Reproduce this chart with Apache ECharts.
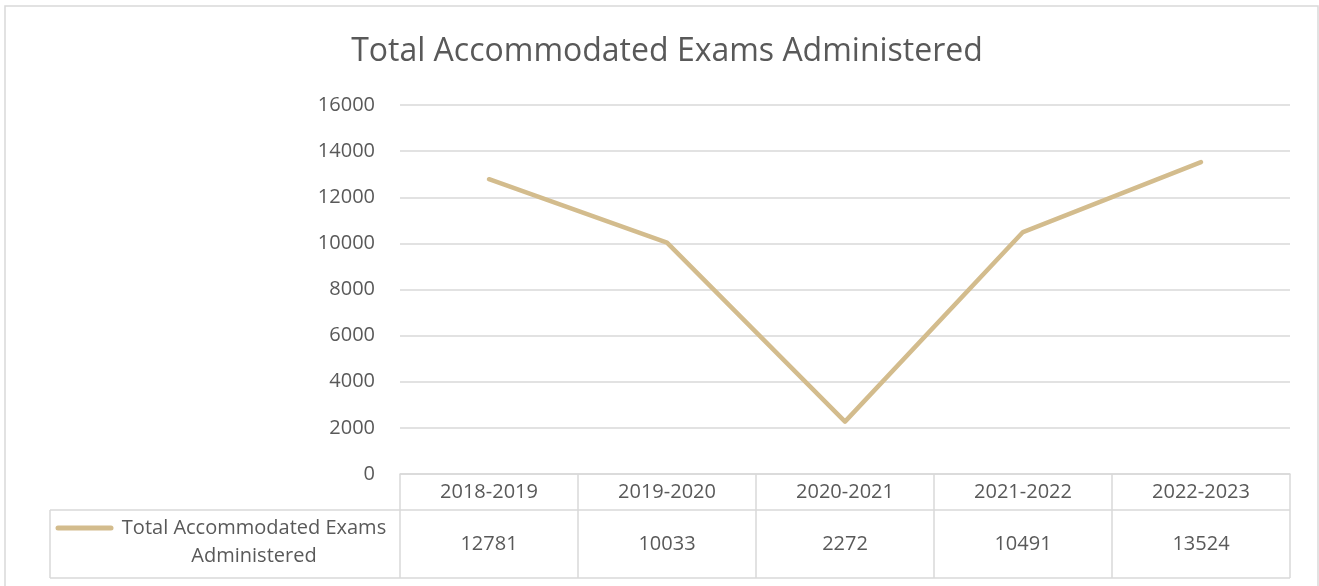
<!DOCTYPE html>
<html>
<head>
<meta charset="utf-8">
<title>Total Accommodated Exams Administered</title>
<script src="https://cdn.jsdelivr.net/npm/echarts@6/dist/echarts.min.js"></script>
<style>
  html, body { margin: 0; padding: 0; background: #fff; }
  #chartmain { width: 1319px; height: 586px; }
</style>
</head>
<body>
<div id="chartmain"></div>
<script>
// data
var seriesName = 'Total Accommodated Exams Administered';
var years = ['2018-2019', '2019-2020', '2020-2021', '2021-2022', '2022-2023'];
var exams = [12781, 10033, 2272, 10491, 13524];
var yMin = 0, yMax = 16000, yStep = 2000;

var font = 'Open Sans';
var textColor = '#595959';
var gridColor = '#d9d9d9';
var lineColor = '#D3BC8D';

window.onload = function () {
    var option = {
        backgroundColor: '#fff',
        animation: false,
        title: {
            text: seriesName,
            left: 662,
            top: 31,
            textAlign: 'center',
            textStyle: { fontFamily: font, fontSize: 32, fontWeight: 'normal', color: textColor }
        },
        grid: { left: 400, right: 29, top: 105, bottom: 112 },
        xAxis: [
            {
                // header row of the data table
                type: 'category',
                data: years,
                axisLine: { show: true, lineStyle: { color: gridColor, width: 1.5 } },
                axisTick: { show: true, length: 104, lineStyle: { color: gridColor, width: 1.5 } },
                axisLabel: { margin: 18, verticalAlign: 'middle', fontFamily: font, fontSize: 20, color: textColor }
            },
            {
                // values row of the data table
                type: 'category',
                position: 'bottom',
                offset: 36,
                data: exams.map(String),
                axisLine: { show: false },
                axisTick: { show: false },
                axisLabel: { margin: 34, verticalAlign: 'middle', fontFamily: font, fontSize: 20, color: textColor }
            }
        ],
        yAxis: {
            type: 'value',
            min: yMin,
            max: yMax,
            interval: yStep,
            axisLine: { show: false },
            axisTick: { show: false },
            splitLine: { lineStyle: { color: gridColor, width: 1.5 } },
            axisLabel: {
                margin: 25, fontFamily: font, fontSize: 20, color: textColor,
                formatter: function (v) { return String(v); }
            }
        },
        series: [
            {
                name: seriesName,
                type: 'line',
                data: exams,
                symbol: 'none',
                lineStyle: { color: lineColor, width: 4.5, cap: 'round', join: 'round' }
            }
        ],
        graphic: [
            // chart outer border
            { type: 'rect', shape: { x: 5, y: 6, width: 1313, height: 600 }, style: { fill: null, stroke: gridColor, lineWidth: 1.5 }, silent: true },
            // table lines left of plot / bottom
            { type: 'line', shape: { x1: 50, y1: 510, x2: 1290, y2: 510 }, style: { stroke: gridColor, lineWidth: 1.5 } },
            { type: 'line', shape: { x1: 50, y1: 578, x2: 1290, y2: 578 }, style: { stroke: gridColor, lineWidth: 1.5 } },
            { type: 'line', shape: { x1: 50, y1: 510, x2: 50, y2: 578 }, style: { stroke: gridColor, lineWidth: 1.5 } },
            // legend key
            { type: 'line', shape: { x1: 58, y1: 528, x2: 111, y2: 528 }, style: { stroke: lineColor, lineWidth: 5, lineCap: 'round' } },
            {
                type: 'text', x: 254, y: 542,
                style: {
                    text: 'Total Accommodated Exams\nAdministered',
                    align: 'center', verticalAlign: 'middle', lineHeight: 28,
                    font: '20px "' + font + '"', fill: textColor
                }
            }
        ]
    };

    var myChart = echarts.init(document.getElementById('chartmain'));
    myChart.setOption(option);
};
</script>
</body>
</html>
